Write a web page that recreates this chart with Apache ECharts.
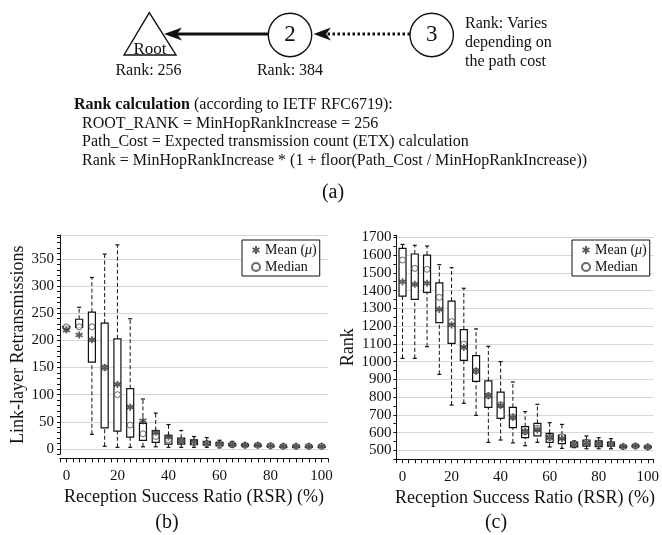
<!DOCTYPE html>
<html><head><meta charset="utf-8">
<script src="https://cdn.jsdelivr.net/npm/echarts@6/dist/echarts.min.js"></script>
<style>html,body{margin:0;padding:0;background:#fff}#c{width:662px;height:535px}</style>
</head><body><div id="c"></div>
<script>
// ---- data ----
const rsr = [0,5,10,15,20,25,30,35,40,45,50,55,60,65,70,75,80,85,90,95,100];
const xTickLabels = [0,20,40,60,80,100];
const retxTickLabels = [0,50,100,150,200,250,300,350];
const rankTickLabels = [500,600,700,800,900,1000,1100,1200,1300,1400,1500,1600,1700];

// (b) Link-layer retransmissions
const retxMin    = [221,223, 27,  5,  3,  3,  4,  4,  3,  3,  3,  3,  2,  3, 5, 5, 4, 4, 4, 4, 4];
const retxQ1     = [223,224,160, 39, 33, 22, 16, 12,  9,  9,  8,  7,  6,  6, 6, 6, 5, 5, 5, 4, 4];
const retxMedian = [225,225,225,150,100, 44, 28, 23, 17, 15, 12, 10,  8,  8, 7, 7, 6, 5, 5, 5, 5];
const retxQ3     = [226,239,252,232,203,111, 47, 34, 25, 20, 17, 14, 12, 10, 8, 7, 6, 5, 5, 5, 5];
const retxMax    = [227,261,316,359,376,240, 92, 66, 45, 34, 23, 21, 16, 14, 9, 8, 7, 6, 6, 6, 6];
const retxMean   = [219,210,201,150,119, 77, 52, 31, 22, 15, 13, 10,  9,  8, 7, 7, 6, 5, 5, 5, 5];

// (c) Rank
const rankMin    = [1018,1018,1084, 928, 755, 765,697,545,558,542,526,545,519,511,515,509,509,509,515,518,514];
const rankQ1     = [1369,1351,1390,1219,1103,1007,889,742,680,628,571,581,545,538,519,524,521,524,518,521,516];
const rankMedian = [1572,1525,1520,1362,1225,1099,947,808,757,688,605,624,573,577,534,545,539,536,521,524,519];
const rankQ3     = [1638,1606,1600,1443,1341,1180,1033,891,828,742,633,652,596,586,547,558,553,547,523,527,521];
const rankMax    = [1660,1655,1651,1546,1529,1413,1184,1086,1000,885,718,759,656,646,553,581,571,566,525,530,523];
const rankMean   = [1450,1435,1441,1294,1206,1080,947,808,752,686,605,615,573,566,534,543,539,536,521,524,519];

// ---- styling ----
const SERIF = '"Liberation Serif","Times New Roman",serif';
const INK = '#111';
const GRID = '#d6d6d6';
const T = 'rgba(0,0,0,0)';
const STAR = 'path://M5 0L5 10M0.67 2.5L9.33 7.5M0.67 7.5L9.33 2.5';

function boxData(mn,q1,md,q3,mx){ return rsr.map((x,i)=>[x,mn[i],q1[i],md[i],q3[i],mx[i]]); }
function pts(vals){ return rsr.map((x,i)=>[x, vals[i]]); }

function renderBox(params, api){
  const x = api.value(0);
  const a = api.coord([x, api.value(1)]);
  const b = api.coord([x, api.value(2)]);
  const d = api.coord([x, api.value(4)]);
  const e = api.coord([x, api.value(5)]);
  const cx = a[0], hw = 3.5, cw = 2;
  const dash = {stroke: INK, lineWidth: 1, lineDash: [4, 2.5], fill: null};
  const solid = {stroke: INK, lineWidth: 1.2, fill: null};
  return {type:'group', children:[
    {type:'line', shape:{x1:cx,y1:d[1],x2:cx,y2:e[1]}, style:dash},
    {type:'line', shape:{x1:cx,y1:a[1],x2:cx,y2:b[1]}, style:dash},
    {type:'line', shape:{x1:cx-cw,y1:e[1],x2:cx+cw,y2:e[1]}, style:solid},
    {type:'line', shape:{x1:cx-cw,y1:a[1],x2:cx+cw,y2:a[1]}, style:solid},
    {type:'rect', shape:{x:cx-hw,y:d[1],width:2*hw,height:Math.max(b[1]-d[1],1)}, style:{fill:'#fff',stroke:INK,lineWidth:1.2}}
  ]};
}

function inList(list){ return v => list.some(t => Math.abs(t - v) < 1e-6) ? String(Math.round(v)) : ''; }

function xAx(gi, min, max, offset){
  return {type:'value', gridIndex:gi, min:min, max:max, interval:2.5, offset:offset,
    axisLine:{show:true, onZero:false, lineStyle:{color:INK, width:1}},
    axisTick:{show:true, inside:false, length:4, lineStyle:{color:INK, width:1}},
    axisLabel:{margin:10, fontFamily:SERIF, fontSize:15, color:INK, formatter: inList(xTickLabels)},
    splitLine:{show:false},
    name:'Reception Success Ratio (RSR) (%)', nameLocation:'middle', nameGap:30,
    nameTextStyle:{fontFamily:SERIF, fontSize:18, color:INK}
  };
}
function yAx(gi, min, max, interval, labels, colors, name, gap, margin){
  return {type:'value', gridIndex:gi, min:min, max:max, interval:interval,
    axisLine:{show:true, onZero:false, lineStyle:{color:INK, width:1}},
    axisTick:{show:true, inside:false, length:3, lineStyle:{color:INK, width:1}},
    axisLabel:{margin:margin, fontFamily:SERIF, fontSize:15, color:INK, formatter: inList(labels)},
    splitLine:{show:true, lineStyle:{color:colors, width:1}},
    name:name, nameLocation:'middle', nameGap:gap, nameRotate:90,
    nameTextStyle:{fontFamily:SERIF, fontSize:18, color:INK}
  };
}

function legendAt(left){
  return {left:left, top:240, orient:'vertical', selectedMode:false,
    data:['Mean (μ)','Median'], itemWidth:8, itemHeight:8, itemGap:3,
    padding:[3,3,2,9], backgroundColor:'#fff', borderColor:INK, borderWidth:1, borderRadius:0,
    formatter: n => n === 'Mean (μ)' ? '{n|Mean (}{i|μ}{n|)}' : '{n|Median}',
    textStyle:{fontFamily:SERIF, fontSize:14, color:INK, lineHeight:14,
      rich:{n:{fontFamily:SERIF, fontSize:14, color:INK, lineHeight:14},
            i:{fontFamily:SERIF, fontSize:14, fontStyle:'italic', color:INK, lineHeight:14}}}
  };
}

function seriesFor(gi, mn,q1,md,q3,mx,mean){
  return [
    {type:'custom', name:'box'+gi, xAxisIndex:gi, yAxisIndex:gi, renderItem:renderBox,
      data:boxData(mn,q1,md,q3,mx), encode:{x:0, y:[1,2,3,4,5]}, z:2, silent:true},
    {type:'scatter', name:'Median', xAxisIndex:gi, yAxisIndex:gi, data:pts(md),
      symbol:'circle', symbolSize:6, itemStyle:{color:'#fff', borderColor:'#444', borderWidth:1}, z:3, silent:true},
    {type:'scatter', name:'Mean (μ)', xAxisIndex:gi, yAxisIndex:gi, data:pts(mean),
      symbol:STAR, symbolSize:7, itemStyle:{color:'#333', borderColor:'#333', borderWidth:1.8}, z:4, silent:true}
  ];
}

// ---- diagram (a) ----
const txt = (text, x, y, size, align, extra) => Object.assign({type:'text', silent:true,
  style:{text:text, x:x, y:y, fill:INK, font: size + 'px ' + SERIF, textAlign:align||'center', textVerticalAlign:'middle'}}, extra||{});
const graphic = [
  {type:'polygon', shape:{points:[[149.3,12.7],[124,55],[176,55]]}, style:{fill:'#fff', stroke:INK, lineWidth:1.4}},
  txt('Root', 150, 50, 17),
  txt('Rank: 256', 148.5, 71, 16),
  {type:'line', shape:{x1:268.3, y1:34, x2:176, y2:34}, style:{stroke:INK, lineWidth:2.8}},
  {type:'polygon', shape:{points:[[164,34],[182,27.5],[177,34],[182,40.5]]}, style:{fill:INK}},
  {type:'circle', shape:{cx:290, cy:35, r:21.7}, style:{fill:'#fff', stroke:INK, lineWidth:1.4}},
  txt('2', 290, 35, 23),
  txt('Rank: 384', 290, 71, 16),
  {type:'line', shape:{x1:410, y1:34, x2:327, y2:34}, style:{stroke:INK, lineWidth:3, lineDash:[2.5,2.5]}},
  {type:'polygon', shape:{points:[[313.5,34],[331,27.5],[326,34],[331,40.5]]}, style:{fill:INK}},
  {type:'circle', shape:{cx:431.7, cy:35, r:21.7}, style:{fill:'#fff', stroke:INK, lineWidth:1.4}},
  txt('3', 431.7, 35, 23),
  txt('Rank: Varies', 465, 24, 16, 'left'),
  txt('depending on', 465, 43, 16, 'left'),
  txt('the path cost', 465, 62, 16, 'left'),
  {type:'text', silent:true, style:{text:'{b|Rank calculation} (according to IETF RFC6719):', x:74, y:105,
    fill:INK, font:'16px ' + SERIF, textAlign:'left', textVerticalAlign:'middle',
    rich:{b:{fontWeight:'bold', fontFamily:SERIF, fontSize:16, fill:INK}}}},
  txt('ROOT_RANK = MinHopRankIncrease = 256', 82, 123.5, 16, 'left'),
  txt('Path_Cost = Expected transmission count (ETX) calculation', 82, 142, 16, 'left'),
  txt('Rank = MinHopRankIncrease * (1 + floor(Path_Cost / MinHopRankIncrease))', 82, 160.5, 16, 'left'),
  txt('(a)', 333, 193, 20),
  txt('(b)', 167, 523, 20),
  txt('(c)', 496, 523, 20)
];

const chart = echarts.init(document.getElementById('c'), null, {renderer:'canvas'});
chart.setOption({
  animation:false,
  backgroundColor:'#fff',
  textStyle:{fontFamily:SERIF},
  grid:[
    {left:60, top:235.1, width:268, height:219.3},
    {left:396.4, top:235.2, width:262.9, height:224}
  ],
  xAxis:[ xAx(0, -2.5, 102.5, 4), xAx(1, -2.5, 102.4, 0) ],
  yAxis:[
    yAx(0, -10, 394, 10, retxTickLabels, [T, GRID, T, T, T], 'Link-layer Retransmissions', 29, 6),
    yAx(1, 450, 1712, 50, rankTickLabels, [T, GRID], 'Rank', 34, 5)
  ],
  legend:[ legendAt(242), legendAt(572) ],
  series:[].concat(
    seriesFor(0, retxMin, retxQ1, retxMedian, retxQ3, retxMax, retxMean),
    seriesFor(1, rankMin, rankQ1, rankMedian, rankQ3, rankMax, rankMean)
  ),
  graphic: graphic
});
</script></body></html>
